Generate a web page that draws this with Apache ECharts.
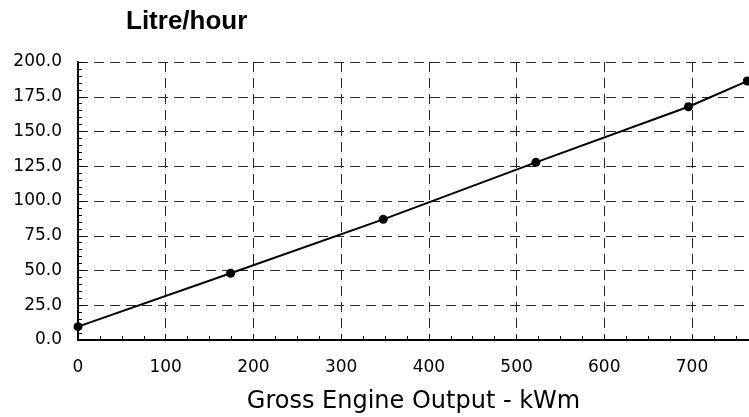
<!DOCTYPE html>
<html>
<head>
<meta charset="utf-8">
<script src="https://cdn.jsdelivr.net/npm/echarts@6/dist/echarts.min.js"></script>
<style>
  html, body { margin: 0; padding: 0; background: #fff; }
  #chart { width: 749px; height: 417px; }
</style>
</head>
<body>
<div id="chart"></div>
<script>
var dom = document.getElementById("chart");
var myChart = echarts.init(dom);

// engine output (kWm) and fuel use (litre/hour)
var outputKw = [0, 174, 348, 522, 696, 763];
var litrePerHour = [9.6, 48.0, 86.8, 127.8, 167.8, 186.3];

var points = outputKw.map(function (x, i) { return [x, litrePerHour[i]]; });

option = {
    backgroundColor: '#ffffff',
    animation: false,
    title: {
        text: 'Litre/hour',
        left: 126,
        top: 9,
        padding: 0,
        textStyle: {
            fontFamily: 'Liberation Sans',
            fontWeight: 'bold',
            fontSize: 26,
            color: '#000'
        }
    },
    grid: {left: 78, right: 0, top: 62, bottom: 77, outerBoundsMode: 'none', containLabel: false},
    xAxis: [{
        type: 'value',
        min: 0,
        max: 765,
        interval: 100,
        name: 'Gross Engine Output - kWm',
        nameLocation: 'middle',
        nameGap: 50,
        nameTextStyle: {fontFamily: 'DejaVu Sans', fontSize: 24, color: '#000'},
        axisLine: {show: true, onZero: false, lineStyle: {color: '#000', width: 2}},
        axisTick: {show: true, inside: true, length: 5, lineStyle: {color: '#000'}},
        minorTick: {show: true, splitNumber: 4, length: 4, lineStyle: {color: '#000'}},
        axisLabel: {
            margin: 19, showMaxLabel: false,
            fontFamily: 'DejaVu Sans', fontSize: 17, color: '#000'
        },
        splitLine: {show: true, lineStyle: {color: '#222', type: [10, 6], width: 1}}
    }, {
        type: 'value',
        position: 'top',
        min: 0,
        max: 765,
        axisLine: {show: true, lineStyle: {color: '#000', width: 2}},
        axisTick: {show: false},
        axisLabel: {show: false},
        splitLine: {show: false}
    }],
    yAxis: {
        type: 'value',
        min: 0,
        max: 200,
        interval: 25,
        axisLine: {show: true, lineStyle: {color: '#000', width: 2}},
        axisTick: {show: true, inside: true, length: 5, lineStyle: {color: '#000'}},
        minorTick: {show: true, splitNumber: 5, length: 4, lineStyle: {color: '#000'}},
        axisLabel: {
            margin: 16,
            fontFamily: 'DejaVu Sans', fontSize: 17, color: '#000',
            formatter: function (v) { return v.toFixed(1); }
        },
        splitLine: {show: true, lineStyle: {color: '#222', type: [10, 6], width: 1}}
    },
    series: [{
        type: 'line',
        data: points,
        symbol: 'circle',
        symbolSize: 9,
        clip: false,
        itemStyle: {color: '#000'},
        lineStyle: {color: '#000', width: 2}
    }]
};

if (option && typeof option === "object") {
    myChart.setOption(option, true);
}
</script>
</body>
</html>
